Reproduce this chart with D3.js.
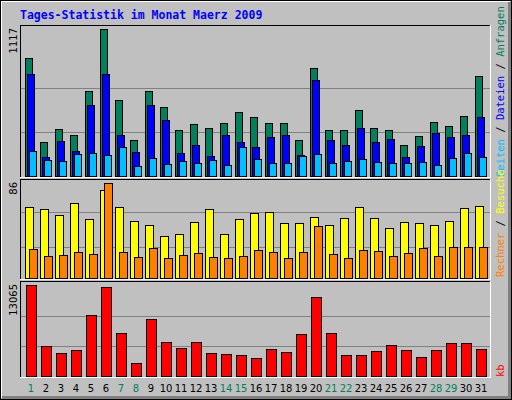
<!DOCTYPE html>
<html><head><meta charset="utf-8">
<script src="https://cdn.jsdelivr.net/npm/d3@7"></script>
<style>body{margin:0;background:#fff}</style>
</head><body><div id="main"></div>
<script>
var days = d3.range(1, 32);
var weekend = [1, 7, 8, 14, 15, 21, 22, 28, 29];
var anfragen = [899,261,360,314,648,1117,580,276,648,527,352,398,367,405,489,451,405,405,276,823,352,352,504,367,352,238,306,413,382,458,762];
var dateien = [778,147,268,193,542,778,314,185,542,428,177,238,155,314,261,223,299,314,162,732,276,238,367,261,284,147,231,329,299,314,451];
var seiten = [193,124,117,170,177,162,223,79,139,94,117,101,124,86,223,132,101,101,155,170,101,117,132,109,101,101,109,86,139,177,147];
var besuche = [64,62.5,57,68,53,80,64,52,48,38,40,51,62.5,40,53,59,60,50,50,55,48,54,64,54,45,51,49.5,48,52,63,65];
var rechner = [26,20,21,23.5,22,86,23.5,19,27,18,21,22.6,19,18,20,25,23.5,18,23.5,47,22,18,25,24,20,22.6,27,20,28,28,28];
var kb = [13065,4339,3338,3767,8773,12779,6198,1907,8201,4911,4053,4911,3338,3195,3052,2622,3910,3481,6055,11348,6198,3052,3052,3624,4482,3767,2765,3767,4768,4768,3910];

var W = 512, H = 400;
var svg = d3.select('#main').append('svg').attr('width', W).attr('height', H)
    .style('display', 'block').attr('shape-rendering', 'crispEdges');

// frame with bevel
svg.append('rect').attr('x', 0).attr('y', 0).attr('width', W).attr('height', H).attr('fill', '#c0c0c0');
svg.append('rect').attr('x', 0.5).attr('y', 0.5).attr('width', W - 1).attr('height', H - 1).attr('fill', 'none').attr('stroke', '#000');
svg.append('path').attr('d', 'M1.5,398V1.5H510').attr('fill', 'none').attr('stroke', '#fff').attr('stroke-width', 1);
svg.append('path').attr('d', 'M2,397.5H509.5V2').attr('fill', 'none').attr('stroke', '#808080').attr('stroke-width', 3);

svg.append('text').attr('x', 20).attr('y', 19).text('Tages-Statistik im Monat Maerz 2009')
    .attr('font-family', 'DejaVu Sans Mono').attr('font-weight', 'bold').attr('font-size', 11.5).attr('fill', '#0000ff');

var x = d3.scaleBand().domain(days).range([21, 486]).paddingInner(0);

function panel(y0, y1, max, label) {
    svg.append('rect').attr('x', 20).attr('y', y0).attr('width', 471).attr('height', y1 - y0).attr('fill', '#c0c0c0');
    svg.append('path').attr('d', 'M20.5,' + y1 + 'V' + (y0 + 0.5) + 'H491').attr('fill', 'none').attr('stroke', '#000');
    svg.append('path').attr('d', 'M20,' + (y1 + 0.5) + 'H490.5V' + y0).attr('fill', 'none').attr('stroke', '#fff');
    var y = d3.scaleLinear().domain([0, max]).range([y1 - 1, y0 + 4]);
    svg.append('g').selectAll('line').data(label.grid).join('line')
        .attr('x1', 21).attr('x2', 490).attr('y1', function(d) { return Math.round(y(d)) + 0.5; })
        .attr('y2', function(d) { return Math.round(y(d)) + 0.5; }).attr('stroke', '#808080');
    svg.append('text').attr('transform', 'translate(17,' + (y0 + 3) + ') rotate(-90)')
        .attr('text-anchor', 'end').attr('font-family', 'DejaVu Sans').attr('font-size', 10).text(max);
    return y;
}

function bars(y, data, off, w, color) {
    svg.append('g').selectAll('rect').data(data).join('rect')
        .attr('x', function(d, i) { return x(days[i]) + off + 0.5; })
        .attr('y', function(d) { return Math.round(y(d)) + 0.5; })
        .attr('width', w).attr('height', function(d) { return y.range()[0] - Math.round(y(d)); })
        .attr('fill', color).attr('stroke', '#000');
}

var y1 = panel(25, 177, 1117, {grid: [335, 670]});
bars(y1, anfragen, 4, 7, '#00805c');
bars(y1, dateien, 6, 7, '#0000ff');
bars(y1, seiten, 8, 7, '#00c0ff');

var y2 = panel(179, 279, 86, {grid: [28, 60]});
bars(y2, besuche, 4, 8, '#ffff00');
bars(y2, rechner, 8, 8, '#ff8000');

var y3 = panel(281, 377, 13065, {grid: [4300, 8600]});
bars(y3, kb, 5, 10, '#ff0000');

svg.append('g').selectAll('text').data(days).join('text')
    .attr('x', function(d) { return x(d) + 10; }).attr('y', 392).attr('text-anchor', 'middle')
    .attr('font-family', 'DejaVu Sans').attr('font-size', 10)
    .attr('fill', function(d) { return weekend.indexOf(d) >= 0 ? '#00805c' : '#000'; })
    .text(function(d) { return d; });

function sideLabel(yb, parts) {
    var t = svg.append('text').attr('transform', 'translate(504,' + yb + ') rotate(-90)')
        .attr('font-family', 'DejaVu Sans Mono').attr('font-size', 10.5);
    parts.forEach(function(p) { t.append('tspan').attr('fill', p[1]).text(p[0]); });
}
sideLabel(177, [['Seiten', '#00c0ff'], [' / ', '#000'], ['Dateien', '#0000ff'], [' / ', '#000'], ['Anfragen', '#00805c']]);
sideLabel(277, [['Rechner', '#ff8000'], [' / ', '#000'], ['Besuche', '#ffff00']]);
sideLabel(377, [['kb', '#ff0000']]);
</script></body></html>
